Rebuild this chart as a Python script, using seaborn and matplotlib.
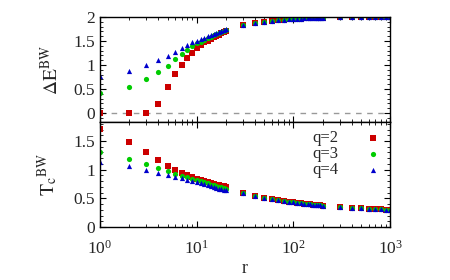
import numpy as np
import pandas as pd
import matplotlib
matplotlib.use("Agg")
import matplotlib.pyplot as plt
import seaborn as sns
from matplotlib.ticker import LogLocator, MultipleLocator, NullFormatter, FormatStrFormatter

# r values: 1..20, 30..200 step 10, 300..1000 step 100
r_vals = list(range(1, 21)) + list(range(30, 201, 10)) + list(range(300, 1001, 100))

# Delta E^BW, r = 1..20 for each q
dE_q2_small = [0.0, 0.0, 0.0, 0.19, 0.55, 0.81, 1.00, 1.15, 1.26, 1.36,
               1.42, 1.47, 1.51, 1.54, 1.58, 1.61, 1.63, 1.66, 1.68, 1.71]
dE_q3_small = [0.42, 0.55, 0.70, 0.85, 0.99, 1.12, 1.23, 1.31, 1.39, 1.45,
               1.49, 1.53, 1.56, 1.59, 1.62, 1.64, 1.67, 1.69, 1.71, 1.73]
dE_q4_small = [0.77, 0.88, 1.00, 1.10, 1.19, 1.28, 1.36, 1.42, 1.47, 1.51,
               1.54, 1.57, 1.60, 1.63, 1.65, 1.67, 1.69, 1.71, 1.73, 1.75]
# r >= 30, nearly identical for all q
dE_tail = [1.83, 1.875, 1.90, 1.92, 1.935, 1.945, 1.955, 1.96, 1.965, 1.97,
           1.975, 1.978, 1.98, 1.983, 1.985, 1.987, 1.989, 1.99,
           1.993, 1.995, 1.996, 1.997, 1.997, 1.998, 1.998, 1.998]

# T_c^BW
Tc_q2_small = [1.71, 1.475, 1.31, 1.17, 1.07, 1.00, 0.95, 0.90, 0.87, 0.84,
               0.82, 0.80, 0.78, 0.77, 0.75, 0.74, 0.73, 0.72, 0.71, 0.70]
Tc_q3_small = [1.31, 1.19, 1.10, 1.03, 0.976, 0.93, 0.89, 0.865, 0.84, 0.82,
               0.80, 0.78, 0.76, 0.74, 0.73, 0.71, 0.70, 0.69, 0.68, 0.67]
Tc_q4_small = [1.13, 1.06, 1.00, 0.95, 0.91, 0.876, 0.85, 0.82, 0.80, 0.78,
               0.77, 0.75, 0.73, 0.71, 0.70, 0.68, 0.67, 0.66, 0.65, 0.64]
Tc_tail = [0.59, 0.545, 0.515, 0.49, 0.47, 0.455, 0.445, 0.435, 0.425, 0.418,
           0.41, 0.404, 0.398, 0.393, 0.388, 0.384, 0.38, 0.376,
           0.35, 0.335, 0.325, 0.318, 0.312, 0.307, 0.303, 0.30]

q_labels = ["q=2", "q=3", "q=4"]
colors = ["#cc0000", "#00cc00", "#0000cc"]
markers = ["s", "o", "^"]

dE = [dE_q2_small + dE_tail, dE_q3_small + dE_tail, dE_q4_small + dE_tail]
Tc = [Tc_q2_small + Tc_tail, Tc_q3_small + Tc_tail, Tc_q4_small + Tc_tail]

sns.set_style("ticks")
plt.rcParams['font.family'] = ['Liberation Serif', 'DejaVu Serif']
plt.rcParams['mathtext.fontset'] = 'stix'

fig = plt.figure(figsize=(4.5, 2.8), dpi=100)
ax1 = fig.add_axes([0.222, 0.564, 0.645, 0.375])
ax2 = fig.add_axes([0.222, 0.189, 0.645, 0.375])

for i in range(3):
    sns.scatterplot(x=r_vals, y=dE[i], ax=ax1, color=colors[i], marker=markers[i],
                    s=14, linewidth=0, legend=False)
    sns.scatterplot(x=r_vals, y=Tc[i], ax=ax2, color=colors[i], marker=markers[i],
                    s=14, linewidth=0, label=q_labels[i])

ax1.axhline(0, color="#999999", ls=(0, (4, 4)), lw=1, zorder=0)

for ax in (ax1, ax2):
    ax.set_xscale("log")
    ax.set_xlim(1, 1000)
    ax.xaxis.set_major_locator(LogLocator(base=10, numticks=10))
    ax.xaxis.set_minor_locator(LogLocator(base=10, subs=np.arange(2, 10), numticks=20))
    ax.xaxis.set_minor_formatter(NullFormatter())
    ax.yaxis.set_major_locator(MultipleLocator(0.5))
    ax.yaxis.set_minor_locator(MultipleLocator(0.1))
    ax.yaxis.set_major_formatter(FormatStrFormatter("%g"))
    ax.tick_params(which="both", direction="in", top=True, right=True, labelsize=12.5,
                   color="black")
    ax.tick_params(which="major", length=4, width=0.8)
    ax.tick_params(which="minor", length=2, width=0.6)
    for sp in ax.spines.values():
        sp.set_linewidth(1)
        sp.set_color("black")

ax1.set_ylim(-0.19, 2)
ax1.tick_params(labelbottom=False)
ax1.set_ylabel(r"$\mathrm{\Delta E}^{\mathrm{BW}}$", fontsize=14, labelpad=8)

ax2.set_ylim(0, 1.83)
ax2.tick_params(axis="x", which="major", pad=9)
ax2.set_ylabel(r"$\mathrm{T_c}^{\mathrm{BW}}$", fontsize=14, labelpad=10)
ax2.set_xlabel("r", fontsize=13, labelpad=2)

ax2.legend(loc="upper right", frameon=False, markerfirst=False, fontsize=12,
           handletextpad=1.6, labelspacing=0.0, borderaxespad=0.2,
           handlelength=1, borderpad=0.3)

fig.savefig("out.png", dpi=100)
